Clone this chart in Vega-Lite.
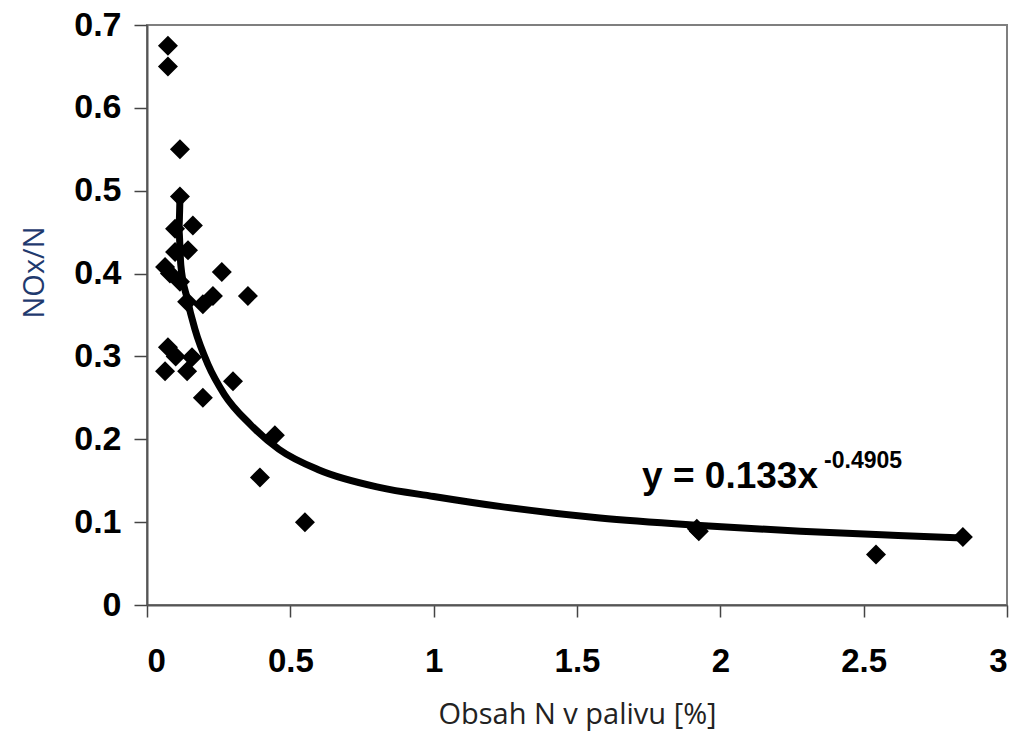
{
  "$schema": "https://vega.github.io/schema/vega-lite/v6.json",
  "width": 860,
  "height": 580,
  "autosize": "none",
  "padding": {"left": 147, "top": 25, "right": 26, "bottom": 135},
  "background": "white",
  "config": {
    "view": {"stroke": "#7f7f7f", "strokeWidth": 2},
    "axis": {"grid": false, "domainColor": "#555555", "domainWidth": 2, "tickColor": "#444444", "tickWidth": 1.5}
  },
  "datasets": {
    "pts": [
      {"n": 0.073, "r": 0.675}, {"n": 0.073, "r": 0.650}, {"n": 0.115, "r": 0.550},
      {"n": 0.115, "r": 0.493}, {"n": 0.098, "r": 0.454}, {"n": 0.160, "r": 0.458},
      {"n": 0.098, "r": 0.426}, {"n": 0.143, "r": 0.428}, {"n": 0.063, "r": 0.408},
      {"n": 0.080, "r": 0.400}, {"n": 0.115, "r": 0.390}, {"n": 0.261, "r": 0.402},
      {"n": 0.352, "r": 0.373}, {"n": 0.230, "r": 0.373}, {"n": 0.195, "r": 0.363},
      {"n": 0.140, "r": 0.366}, {"n": 0.073, "r": 0.311}, {"n": 0.063, "r": 0.282},
      {"n": 0.157, "r": 0.299}, {"n": 0.140, "r": 0.282}, {"n": 0.100, "r": 0.300},
      {"n": 0.195, "r": 0.250}, {"n": 0.300, "r": 0.270}, {"n": 0.446, "r": 0.205},
      {"n": 0.394, "r": 0.154}, {"n": 0.551, "r": 0.100}, {"n": 1.918, "r": 0.092},
      {"n": 1.925, "r": 0.089}, {"n": 2.543, "r": 0.061}, {"n": 2.846, "r": 0.082}
    ],
    "fit": [
      {"i": 1, "n": 0.115, "r": 0.492}, {"i": 2, "n": 0.111, "r": 0.454},
      {"i": 3, "n": 0.118, "r": 0.410}, {"i": 4, "n": 0.140, "r": 0.370},
      {"i": 5, "n": 0.167, "r": 0.333}, {"i": 6, "n": 0.213, "r": 0.290},
      {"i": 7, "n": 0.270, "r": 0.254}, {"i": 8, "n": 0.360, "r": 0.218},
      {"i": 9, "n": 0.460, "r": 0.188}, {"i": 10, "n": 0.600, "r": 0.163},
      {"i": 11, "n": 0.810, "r": 0.142}, {"i": 12, "n": 1.000, "r": 0.131},
      {"i": 13, "n": 1.230, "r": 0.119}, {"i": 14, "n": 1.580, "r": 0.105},
      {"i": 15, "n": 1.930, "r": 0.096}, {"i": 16, "n": 2.280, "r": 0.089},
      {"i": 17, "n": 2.620, "r": 0.084}, {"i": 18, "n": 2.846, "r": 0.081}
    ],
    "labels": [
      {"n": 1.727, "r": 0.141, "t": "y = 0.133x", "k": "main"},
      {"n": 2.362, "r": 0.165, "t": "-0.4905", "k": "sup"}
    ]
  },
  "layer": [
    {
      "data": {"name": "fit"},
      "mark": {"type": "line", "color": "black", "strokeWidth": 7, "strokeCap": "round", "strokeJoin": "round", "interpolate": "monotone"},
      "encoding": {
        "x": {"field": "n", "type": "quantitative", "scale": {"domain": [0, 3], "nice": false},
          "axis": {"title": "Obsah N v palivu [%]", "values": [0, 0.5, 1, 1.5, 2, 2.5, 3], "labelExpr": "datum.value == 0 ? '0' : format(datum.value, '~g')",
            "labelFont": "Liberation Sans", "labelFontWeight": "bold", "labelFontSize": 33, "labelColor": "black",
            "tickSize": 12, "labelPadding": 28,
            "titleFont": "Open Sans", "titleFontWeight": "normal", "titleFontSize": 29, "titleColor": "#222222", "titlePadding": 22}},
        "y": {"field": "r", "type": "quantitative", "scale": {"domain": [0, 0.7], "nice": false},
          "axis": {"title": "NOx/N", "values": [0, 0.1, 0.2, 0.3, 0.4, 0.5, 0.6, 0.7], "labelExpr": "datum.value == 0 ? '0' : format(datum.value, '.1f')",
            "labelFont": "Liberation Sans", "labelFontWeight": "bold", "labelFontSize": 34, "labelColor": "black",
            "tickSize": 13, "labelPadding": 13,
            "titleFont": "Open Sans", "titleFontWeight": "normal", "titleFontSize": 29, "titleColor": "#1f3a6e",
            "titleX": -98, "titleY": 247}},
        "order": {"field": "i", "type": "quantitative"}
      }
    },
    {
      "data": {"name": "pts"},
      "mark": {"type": "point", "shape": "diamond", "filled": true, "color": "black", "opacity": 1, "size": 400},
      "encoding": {
        "x": {"field": "n", "type": "quantitative"},
        "y": {"field": "r", "type": "quantitative"}
      }
    },
    {
      "data": {"name": "labels"},
      "transform": [{"filter": "datum.k == 'main'"}],
      "mark": {"type": "text", "align": "left", "baseline": "alphabetic", "font": "Liberation Sans", "fontWeight": "bold", "fontSize": 37, "color": "black"},
      "encoding": {
        "x": {"field": "n", "type": "quantitative"},
        "y": {"field": "r", "type": "quantitative"},
        "text": {"field": "t"}
      }
    },
    {
      "data": {"name": "labels"},
      "transform": [{"filter": "datum.k == 'sup'"}],
      "mark": {"type": "text", "align": "left", "baseline": "alphabetic", "font": "Liberation Sans", "fontWeight": "bold", "fontSize": 23, "color": "black"},
      "encoding": {
        "x": {"field": "n", "type": "quantitative"},
        "y": {"field": "r", "type": "quantitative"},
        "text": {"field": "t"}
      }
    }
  ]
}
